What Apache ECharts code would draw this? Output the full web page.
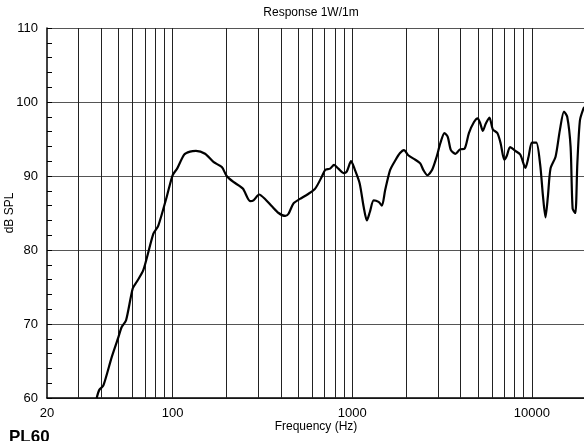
<!DOCTYPE html>
<html>
<head>
<meta charset="utf-8">
<script src="https://cdn.jsdelivr.net/npm/echarts@6/dist/echarts.min.js"></script>
<style>html,body{margin:0;padding:0;background:#fff}#c{width:584px;height:441px}</style>
</head>
<body>
<div id="c"></div>
<script>
var freqs = [37.8,39.1,41.2,45.8,49.9,52.1,55.1,60.0,63.2,68.8,78.2,83.3,92.8,100,106,116,125,135,151.7,168.8,188,200,218,246,270,282,303,327,357,389,424,442,471,512,563,622,677,707,753,792,837,894,932,985,1036,1100,1158,1206,1252,1316,1401,1462,1525,1624,1735,1845,1940,2050,2245,2390,2490,2620,2780,2950,3090,3260,3400,3540,3750,3980,4220,4460,4760,4990,5160,5330,5540,5800,6060,6420,6700,7020,7240,7560,8080,8610,9200,9580,10000,10580,11120,11530,11900,12270,12690,13540,14310,15080,15720,16420,16850,17440,17900,18500,19350,19680];
var spl = [60.0,61.1,61.7,65.5,68.2,69.6,70.5,74.8,75.7,77.3,82.2,83.3,87.2,90.1,91.0,92.9,93.3,93.4,93.0,91.9,91.2,90.0,89.2,88.3,86.6,86.7,87.5,86.9,85.9,85.0,84.6,84.9,86.3,86.9,87.5,88.3,89.9,90.8,91.0,91.5,91.0,90.4,90.6,92.0,90.8,89.0,85.8,84.0,85.1,86.7,86.5,86.0,88.1,90.8,92.1,93.1,93.5,92.8,92.2,91.7,90.8,90.1,90.8,92.6,94.4,95.8,95.3,93.5,93.0,93.6,93.7,95.8,97.3,97.8,97.1,96.1,97.1,97.9,96.3,95.8,94.4,92.2,92.7,93.9,93.4,92.9,91.1,92.6,94.5,94.5,91.5,87.2,84.4,87.2,91.0,92.6,96.2,98.7,98.0,93.9,85.6,85.0,91.7,97.5,99.1,99.3];
var gridFreqs = [30,40,50,60,70,80,90,100,200,300,400,500,600,700,800,900,1000,2000,3000,4000,5000,6000,7000,8000,9000,10000];
var xTickLabels = [20,100,1000,10000];
var titleText = 'Response 1W/1m';
var xName = 'Frequency (Hz)';
var yName = 'dB SPL';
var modelName = 'PL60';

var FONT = '"Liberation Sans", Arial, sans-serif';
var chart = echarts.init(document.getElementById('c'), null, {renderer: 'canvas'});
var data = freqs.map(function (f, i) { return [f, spl[i]]; });
chart.setOption({
  animation: false,
  backgroundColor: '#fff',
  grid: {left: 47, right: -2, top: 28, bottom: 43, containLabel: false, outerBoundsMode: 'none'},
  graphic: [
    {type: 'text', x: 311, y: 7, style: {text: titleText, font: '12px ' + FONT, fill: '#000', textAlign: 'center'}},
    {type: 'text', x: 316, y: 427, style: {text: xName, font: '12px ' + FONT, fill: '#000', textAlign: 'center', textVerticalAlign: 'middle'}},
    {type: 'text', x: 10, y: 213, rotation: Math.PI / 2, style: {text: yName, font: '12px ' + FONT, fill: '#000', textAlign: 'center', textVerticalAlign: 'middle'}},
    {type: 'text', x: 9, y: 429, style: {text: modelName, font: 'bold 17px ' + FONT, fill: '#000'}}
  ],
  xAxis: {
    type: 'log', logBase: 10, min: 20, max: 20000,
    axisLine: {show: true, lineStyle: {color: '#000', width: 1.5}},
    axisTick: {show: false},
    splitLine: {show: false},
    axisLabel: {
      color: '#000', fontSize: 13, fontFamily: FONT, margin: 9,
      showMaxLabel: false,
      formatter: function (v) { return xTickLabels.indexOf(Math.round(v)) >= 0 ? String(Math.round(v)) : ''; }
    }
  },
  yAxis: {
    type: 'value', min: 60, max: 110, interval: 10,
    axisLine: {show: true, lineStyle: {color: '#000', width: 1.5}},
    axisTick: {show: true, inside: true, length: 5, lineStyle: {color: '#000'}},
    minorTick: {show: true, splitNumber: 5, length: 5, lineStyle: {color: '#000', width: 1}},
    splitLine: {show: true, lineStyle: {color: '#555', width: 1}},
    axisLabel: {color: '#000', fontSize: 13, fontFamily: FONT, margin: 9}
  },
  series: [{
    type: 'line', data: data, showSymbol: false, smooth: 0.25,
    lineStyle: {color: '#000', width: 2.2},
    z: 5,
    markLine: {
      silent: true, symbol: 'none', label: {show: false},
      lineStyle: {color: '#222', width: 1, type: 'solid'},
      data: gridFreqs.map(function (f) { return {xAxis: f}; }),
      z: 1
    }
  }]
});
</script>
</body>
</html>
